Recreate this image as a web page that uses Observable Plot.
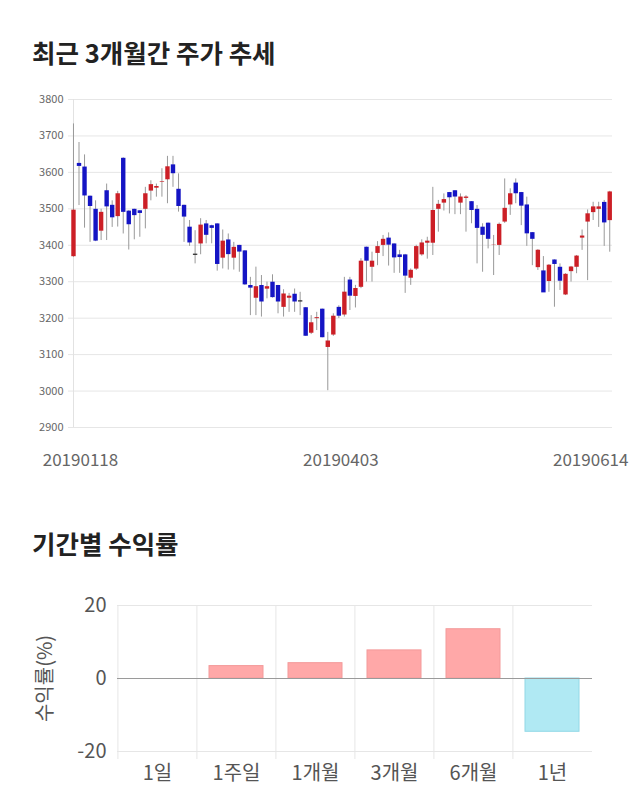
<!DOCTYPE html>
<html><head><meta charset="utf-8">
<script src="https://cdn.jsdelivr.net/npm/d3@7"></script>
<script src="https://cdn.jsdelivr.net/npm/@observablehq/plot@0.6"></script>
<style>
body{margin:0;background:#fff;width:640px;height:810px;position:relative;overflow:hidden;font-family:"Noto Sans CJK KR","Noto Sans",sans-serif;}
.title{position:absolute;left:32px;font-size:25.5px;font-weight:700;color:#222;line-height:1;white-space:nowrap;}
#c1{position:absolute;left:0;top:80px;}
#c2{position:absolute;left:0;top:580px;}
</style></head><body>
<div class="title" style="top:39px">최근 3개월간 주가 추세</div>
<div id="c1"></div>
<div class="title" style="top:530px">기간별 수익률</div>
<div id="c2"></div>
<script>
// ---- candle data (daily OHLC, 20190118 .. 20190614) ----
const opens  = [3367,3623,3613,3533,3497,3437,3548,3508,3477,3637,3492,3497,3493,3497,3547,3555,3571,3578,3619,3552,3508,3448,3374,3402,3457,3452,3457,3363,3413,3363,3398,3383,3288,3253,3288,3278,3297,3288,3228,3253,3264,3246,3227,3157,3197,3223,3118,3152,3228,3207,3303,3258,3283,3393,3338,3376,3398,3418,3402,3372,3372,3308,3333,3372,3404,3404,3497,3514,3543,3548,3514,3527,3518,3497,3448,3459,3398,3398,3462,3509,3569,3543,3509,3433,3337,3328,3299,3358,3338,3262,3326,3338,3418,3462,3488,3497,3516,3466];
const highs  = [3733,3682,3648,3535,3522,3499,3568,3522,3548,3640,3495,3499,3495,3559,3577,3568,3610,3644,3644,3596,3510,3468,3440,3473,3468,3455,3459,3442,3431,3408,3400,3385,3312,3340,3317,3299,3319,3290,3278,3268,3280,3271,3229,3207,3216,3225,3161,3212,3234,3312,3312,3290,3363,3395,3381,3410,3427,3434,3404,3386,3375,3335,3400,3415,3422,3559,3523,3541,3545,3550,3541,3536,3520,3509,3459,3461,3427,3461,3582,3555,3582,3545,3532,3435,3388,3369,3347,3360,3349,3322,3342,3372,3442,3497,3518,3518,3523,3548];
const lows   = [3367,3509,3447,3408,3410,3413,3413,3449,3450,3431,3387,3415,3422,3445,3522,3532,3532,3514,3559,3491,3408,3397,3349,3374,3404,3404,3329,3335,3332,3332,3326,3290,3207,3207,3203,3253,3255,3212,3203,3216,3216,3207,3150,3155,3166,3146,3001,3150,3199,3203,3221,3228,3281,3299,3299,3344,3369,3343,3323,3323,3268,3290,3331,3370,3362,3372,3436,3494,3486,3484,3484,3436,3459,3349,3326,3390,3317,3372,3460,3482,3514,3454,3397,3344,3331,3271,3271,3230,3276,3262,3299,3322,3386,3303,3468,3449,3397,3381];
const closes = [3498,3618,3537,3508,3413,3492,3507,3477,3543,3492,3458,3483,3489,3543,3568,3563,3576,3617,3598,3508,3479,3408,3374,3457,3429,3448,3349,3413,3376,3396,3383,3293,3284,3288,3246,3288,3258,3246,3268,3262,3246,3246,3152,3189,3203,3148,3139,3207,3207,3273,3262,3283,3358,3358,3358,3398,3418,3402,3367,3368,3317,3333,3398,3408,3413,3497,3514,3527,3532,3534,3534,3534,3497,3448,3429,3418,3402,3459,3503,3543,3543,3509,3433,3418,3388,3271,3347,3349,3303,3322,3342,3372,3427,3488,3507,3507,3463,3548];
const priceTicks = [2900,3000,3100,3200,3300,3400,3500,3600,3700,3800];
const dateTickIndex  = [0, 48, 97];
const dateTickLabels = ["20190118","20190403","20190614"];

// ---- period returns ----
const periods = ["1일","1주일","1개월","3개월","6개월","1년"];
const returns = [0, 3.4, 4.2, 7.7, 13.5, -14.6];
const returnTicks = [-20, 0, 20];

const FONT = '"Noto Sans CJK KR","Noto Sans",sans-serif';
const RED = "#cc1f26", BLUE = "#1414c4", DOJI = "#222";

const candles = opens.map((o, i) => ({i, open: o, high: highs[i], low: lows[i], close: closes[i]}));
const candleColor = d => d.close > d.open ? RED : d.close < d.open ? BLUE : DOJI;
const dateFmt = i => dateTickLabels[dateTickIndex.indexOf(i)];
const xAxisOpts = {tickSize: 0, tickPadding: 26, fontSize: 17, color: "#666", label: null, tickFormat: dateFmt};

const chart1 = Plot.plot({
  width: 640, height: 400,
  marginTop: 19, marginBottom: 53, marginLeft: 68, marginRight: 28,
  style: {fontFamily: FONT, background: "transparent", overflow: "visible"},
  x: {domain: [-0.9, 97.5], axis: null},
  y: {domain: [2900, 3800], axis: null},
  color: {type: "identity"},
  marks: [
    Plot.ruleY(priceTicks, {stroke: "#e6e6e6"}),
    Plot.ruleX([dateTickIndex[0]], {stroke: "#e2e2e2"}),
    Plot.axisY({ticks: priceTicks, tickFormat: d => String(d), tickSize: 0, tickPadding: 5, fontSize: 11, color: "#666", label: null}),
    Plot.ruleX(candles, {x: "i", y1: "low", y2: "high", stroke: "#999", strokeWidth: 1}),
    Plot.ruleX(candles, {x: "i", y1: "open", y2: "close", stroke: candleColor, strokeWidth: 4.4, insetTop: -0.6, insetBottom: -0.6}),
    Plot.axisX({...xAxisOpts, ticks: [dateTickIndex[0]], dx: 7}),
    Plot.axisX({...xAxisOpts, ticks: [dateTickIndex[1]], dx: 2}),
    Plot.axisX({...xAxisOpts, ticks: [dateTickIndex[2]], dx: -19})
  ]
});
document.getElementById("c1").appendChild(chart1);

const W2 = 640, ML2 = 117, MR2 = 48;
const step = (W2 - ML2 - MR2) / periods.length;
const returnData = periods.map((p, k) => ({period: p, value: returns[k]}));

const chart2 = Plot.plot({
  width: W2, height: 230,
  marginTop: 25, marginBottom: 59, marginLeft: ML2, marginRight: MR2,
  style: {fontFamily: FONT, background: "transparent", overflow: "visible"},
  x: {domain: periods, paddingInner: 0.32, paddingOuter: 0.16, axis: null},
  y: {domain: [-20, 20], axis: null},
  color: {type: "identity"},
  marks: [
    Plot.ruleY([-20, 20], {stroke: "#e6e6e6"}),
    Plot.ruleX(periods, {x: d => d, stroke: "#e6e6e6", dx: -step / 2, insetBottom: -8}),
    Plot.barY(returnData, {x: "period", y: "value",
      fill: d => d.value >= 0 ? "#ffa8a8" : "#b0e9f3",
      stroke: d => d.value >= 0 ? "#f39a9a" : "#92d8e6", strokeWidth: 1}),
    Plot.ruleY([0], {stroke: "#9a9a9a"}),
    Plot.axisY({ticks: returnTicks, tickFormat: d => String(d), tickSize: 0, tickPadding: 11, fontSize: 20, color: "#555",
      label: "수익률(%)", labelAnchor: "center", labelOffset: 80, labelArrow: "none"}),
    Plot.axisX({tickSize: 0, tickPadding: 14, fontSize: 20, color: "#555", label: null})
  ]
});
document.getElementById("c2").appendChild(chart2);
</script>
</body></html>
